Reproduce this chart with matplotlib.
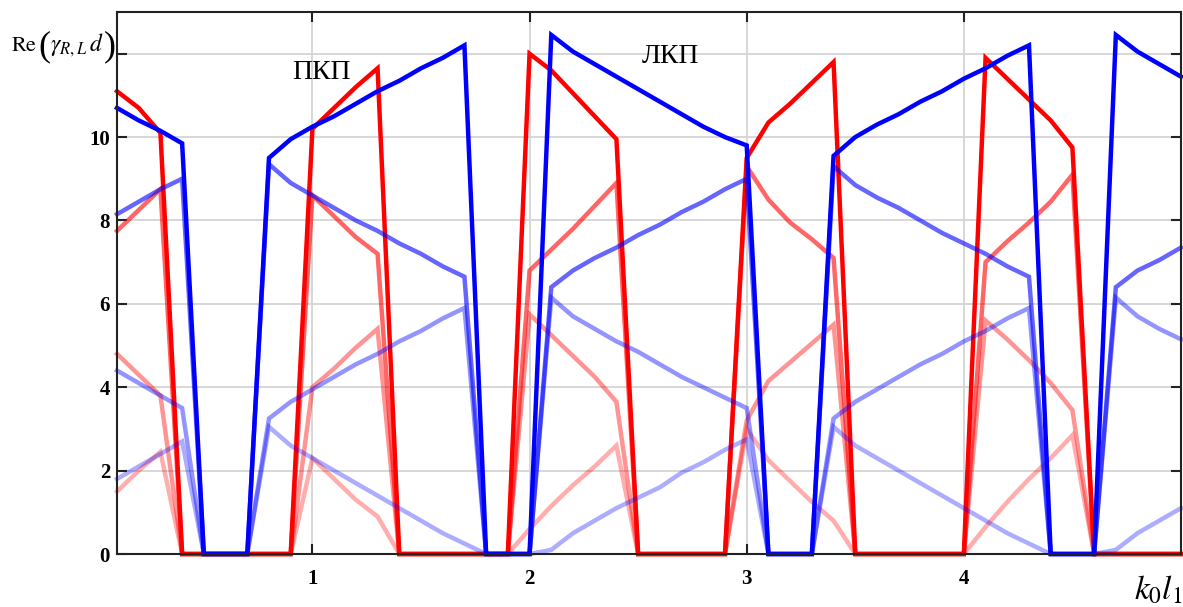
import numpy as np
import matplotlib
matplotlib.use("Agg")
import matplotlib.pyplot as plt

plt.rcParams['mathtext.fontset'] = 'stix'

# k0*l1 sampling grid
x = np.linspace(0.1, 5.0, 50)

# Re(gamma_R d), right-hand polarisation (red), four modes
red_1 = [11.1, 10.7, 10.1, 0, 0, 0, 0, 0, 0, 10.2,
         10.7, 11.2, 11.65, 0, 0, 0, 0, 0, 0, 12.0,
         11.6, 11.05, 10.5, 9.95, 0, 0, 0, 0, 0, 9.5,
         10.35, 10.8, 11.3, 11.8, 0, 0, 0, 0, 0, 0,
         11.9, 11.4, 10.9, 10.4, 9.75, 0, 0, 0, 0, 0]
red_2 = [7.75, 8.25, 8.75, 0, 0, 0, 0, 0, 0, 8.6,
         8.1, 7.6, 7.2, 0, 0, 0, 0, 0, 0, 6.8,
         7.3, 7.8, 8.35, 8.9, 0, 0, 0, 0, 0, 9.3,
         8.5, 7.95, 7.55, 7.1, 0, 0, 0, 0, 0, 0,
         7.0, 7.5, 7.95, 8.45, 9.1, 0, 0, 0, 0, 0]
red_3 = [4.8, 4.3, 3.8, 0, 0, 0, 0, 0, 0, 4.0,
         4.45, 4.95, 5.4, 0, 0, 0, 0, 0, 0, 5.75,
         5.25, 4.75, 4.25, 3.65, 0, 0, 0, 0, 0, 3.2,
         4.15, 4.6, 5.05, 5.5, 0, 0, 0, 0, 0, 0,
         5.6, 5.15, 4.65, 4.1, 3.45, 0, 0, 0, 0, 0]
red_4 = [1.5, 2.0, 2.45, 0, 0, 0, 0, 0, 0, 2.3,
         1.8, 1.3, 0.9, 0, 0, 0, 0, 0, 0, 0.6,
         1.15, 1.65, 2.1, 2.6, 0, 0, 0, 0, 0, 3.0,
         2.25, 1.75, 1.25, 0.8, 0, 0, 0, 0, 0, 0,
         0.65, 1.25, 1.8, 2.3, 2.85, 0, 0, 0, 0, 0]

# Re(gamma_L d), left-hand polarisation (blue), four modes
blue_1 = [10.7, 10.4, 10.15, 9.85, 0, 0, 0, 9.5, 9.95, 10.25,
          10.5, 10.8, 11.1, 11.35, 11.65, 11.9, 12.2, 0, 0, 0,
          12.45, 12.05, 11.75, 11.45, 11.15, 10.85, 10.55, 10.25, 10.0, 9.8,
          0, 0, 0, 9.55, 10.0, 10.3, 10.55, 10.85, 11.1, 11.4,
          11.65, 11.95, 12.2, 0, 0, 0, 12.45, 12.05, 11.75, 11.45]
blue_2 = [8.15, 8.45, 8.75, 9.0, 0, 0, 0, 9.35, 8.9, 8.6,
          8.3, 8.0, 7.75, 7.45, 7.2, 6.9, 6.65, 0, 0, 0,
          6.4, 6.8, 7.1, 7.35, 7.65, 7.9, 8.2, 8.45, 8.75, 9.0,
          0, 0, 0, 9.3, 8.85, 8.55, 8.3, 8.0, 7.7, 7.45,
          7.2, 6.9, 6.65, 0, 0, 0, 6.4, 6.8, 7.05, 7.35]
blue_3 = [4.4, 4.1, 3.8, 3.5, 0, 0, 0, 3.25, 3.65, 3.95,
          4.25, 4.55, 4.8, 5.1, 5.35, 5.65, 5.9, 0, 0, 0,
          6.15, 5.7, 5.4, 5.1, 4.85, 4.55, 4.25, 4.0, 3.75, 3.5,
          0, 0, 0, 3.25, 3.65, 3.95, 4.25, 4.55, 4.8, 5.1,
          5.35, 5.65, 5.9, 0, 0, 0, 6.15, 5.7, 5.4, 5.15]
blue_4 = [1.8, 2.1, 2.4, 2.7, 0, 0, 0, 3.05, 2.6, 2.3,
          2.0, 1.7, 1.4, 1.1, 0.8, 0.5, 0.25, 0, 0, 0,
          0.1, 0.5, 0.8, 1.1, 1.35, 1.6, 1.95, 2.2, 2.5, 2.75,
          0, 0, 0, 3.05, 2.6, 2.3, 2.0, 1.7, 1.4, 1.1,
          0.8, 0.5, 0.25, 0, 0, 0, 0.1, 0.5, 0.8, 1.1]

W, H = 1183, 607
fig = plt.figure(figsize=(W / 100, H / 100), dpi=100)
ax = fig.add_axes([0.0989, 0.0873, 0.8994, 0.8929])

lw = 3.2
# lighter modes first, main mode on top
for ys, a in [(red_4, 0.32), (red_3, 0.42), (red_2, 0.6), (red_1, 1.0)]:
    ax.plot(x, ys, color=(1, 0, 0, a), lw=lw, clip_on=False, solid_joinstyle='miter')
for ys, a in [(blue_4, 0.32), (blue_3, 0.42), (blue_2, 0.6), (blue_1, 1.0)]:
    ax.plot(x, ys, color=(0, 0, 1, a), lw=lw, clip_on=False, solid_joinstyle='miter')

ax.set_xlim(0.1, 5.0)
ax.set_ylim(0, 13.0)
ax.set_xticks([1, 2, 3, 4])
ax.set_yticks([0, 2, 4, 6, 8, 10, 12])
ax.set_yticklabels(['0', '2', '4', '6', '8', '10', ''])
ax.grid(True, color='#d4d4d4', lw=1.3)
ax.set_axisbelow(True)

for s in ax.spines.values():
    s.set_color('#222222')
    s.set_linewidth(1.5)
ax.tick_params(direction='in', top=True, right=True, length=7, width=1.5,
               color='#222222')
ax.tick_params(axis='x', pad=11)
ax.tick_params(axis='y', pad=5)
for lab in ax.get_xticklabels() + ax.get_yticklabels():
    lab.set_fontfamily('Liberation Serif')
    lab.set_fontweight('bold')
    lab.set_fontsize(15)

# y label: Re( gamma_{R,L} d ) with tall brackets
base = 1 - 51 / H
fig.text(11 / W, base, r'$\mathrm{Re}$', fontsize=16, ha='left', va='baseline')
fig.text(38 / W, 1 - 47 / H, '(', fontsize=26, family='Liberation Serif',
         ha='left', va='center')
fig.text(50 / W, base, r'$\gamma_{R,L}\,d$', fontsize=17, ha='left', va='baseline')
fig.text(104 / W, 1 - 47 / H, ')', fontsize=26, family='Liberation Serif',
         ha='left', va='center')

fig.text(1182 / W, 1 - 590 / H, r'$k_0 l_1$', fontsize=24,
         ha='right', va='center')

ax.text(1.04, 11.54, 'ПКП', fontsize=20, family='Liberation Serif',
        ha='center', va='center')
ax.text(2.65, 11.93, 'ЛКП', fontsize=20, family='Liberation Serif',
        ha='center', va='center')

fig.savefig('out.png', dpi=100)
